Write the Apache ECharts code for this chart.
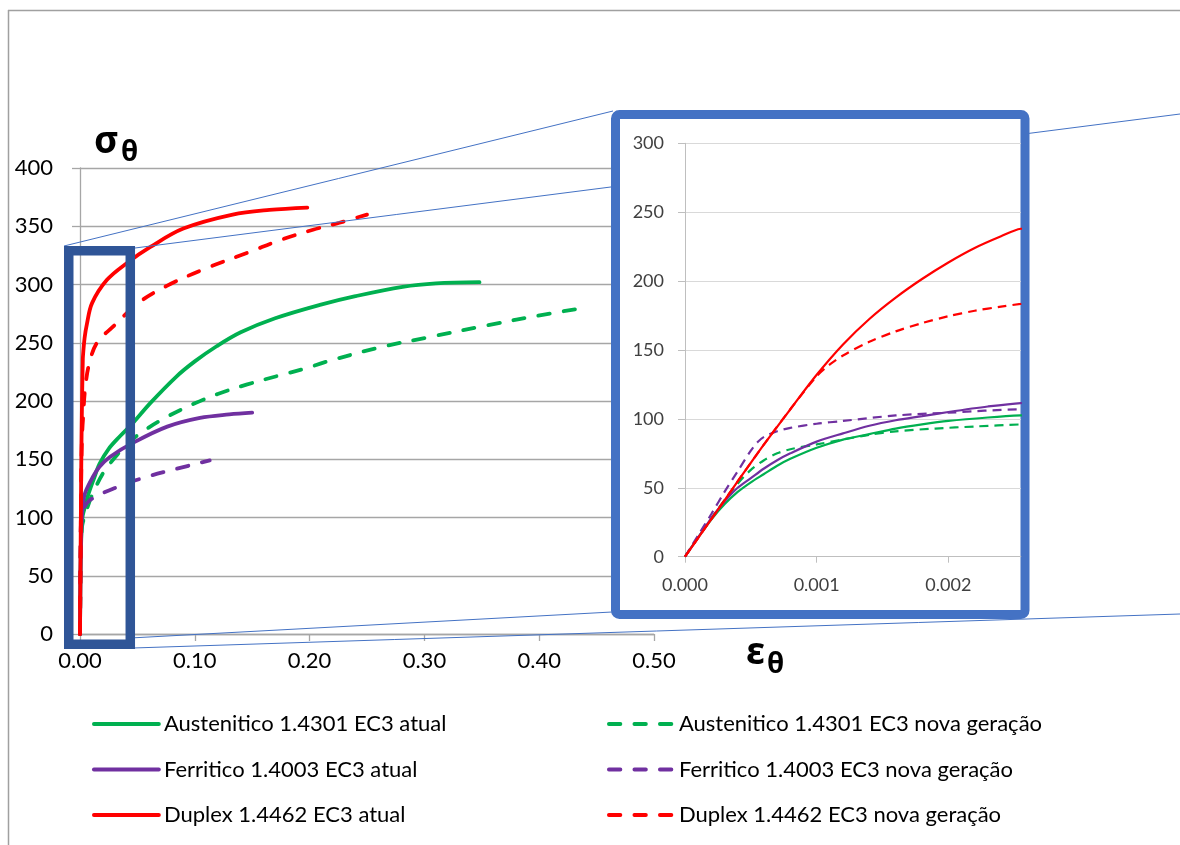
<!DOCTYPE html>
<html>
<head>
<meta charset="utf-8">
<script src="https://cdn.jsdelivr.net/npm/echarts@6/dist/echarts.min.js"></script>
<style>
  html, body { margin: 0; padding: 0; background: #fff; }
  #chart { width: 1180px; height: 845px; }
</style>
</head>
<body>
<div id="chart"></div>
<script>
// Stress-strain curves [strain, stress] at elevated temperature, EC3 current vs. new generation
const austeniticoAtual = [
  [0, 0], [0.0001, 14], [0.0002, 27], [0.0003, 38], [0.0004, 47], [0.0005, 54], [0.0006, 60],
  [0.0007, 66], [0.0008, 71], [0.001, 79], [0.0012, 85], [0.0014, 89], [0.0016, 93], [0.0018, 96],
  [0.002, 98.5], [0.0023, 101], [0.00255, 102.5], [0.004, 108], [0.007, 119], [0.012, 133],
  [0.017, 146], [0.025, 159], [0.035, 170], [0.046, 181], [0.061, 198], [0.084, 221], [0.1, 234],
  [0.119, 247], [0.14, 259], [0.17, 271], [0.209, 282.5], [0.24, 290], [0.281, 298], [0.31, 301],
  [0.348, 302]
];
const austeniticoNova = [
  [0, 0], [0.0001, 14], [0.0002, 28], [0.0003, 41], [0.0004, 53], [0.0005, 63], [0.0006, 70],
  [0.0007, 75], [0.0008, 78], [0.001, 81.5], [0.0012, 85], [0.0014, 88.5], [0.0016, 91],
  [0.0019, 93], [0.0022, 94.5], [0.00255, 96], [0.005, 104], [0.01, 118], [0.02, 138], [0.03, 151],
  [0.04, 162], [0.052, 172], [0.075, 186], [0.1, 198], [0.12, 206], [0.145, 214], [0.174, 222],
  [0.2, 229], [0.212, 233], [0.261, 246], [0.305, 255], [0.355, 265], [0.403, 274], [0.44, 280]
];
const ferriticoAtual = [
  [0, 0], [0.0001, 14], [0.0002, 28], [0.0003, 40], [0.0004, 50], [0.0005, 57], [0.0006, 64],
  [0.0007, 70], [0.0008, 75], [0.001, 83.5], [0.0012, 89.5], [0.0014, 95], [0.0016, 99],
  [0.0018, 102], [0.002, 105], [0.0023, 109], [0.00255, 111.5], [0.0044, 121], [0.0113, 135],
  [0.017, 143.5], [0.026, 152], [0.046, 164], [0.076, 178], [0.1045, 185.5], [0.13, 188.5], [0.15, 190]
];
const ferriticoNova = [
  [0, 0], [0.0001, 15.5], [0.0002, 31], [0.0003, 47], [0.0004, 62], [0.0005, 77], [0.00055, 83],
  [0.0006, 87], [0.0007, 91], [0.0008, 93.5], [0.001, 96.5], [0.0012, 98.5], [0.0016, 102.5],
  [0.002, 104.5], [0.00255, 107], [0.0087, 115], [0.032, 126], [0.055, 134], [0.081, 141],
  [0.113, 149]
];
const duplexAtual = [
  [0, 0], [0.0002, 27.3], [0.0004, 54.6], [0.0006, 81.5], [0.0008, 107], [0.001, 132],
  [0.0012, 154], [0.0014, 172.5], [0.0016, 188], [0.0018, 201.5], [0.002, 213.5], [0.0022, 224],
  [0.0024, 232.5], [0.00255, 238], [0.004, 254], [0.006, 266], [0.0105, 284], [0.0235, 304],
  [0.041, 318.5], [0.061, 332], [0.09, 348], [0.133, 360], [0.165, 364], [0.198, 366]
];
const duplexNova = [
  [0, 0], [0.0002, 27.3], [0.0004, 54.6], [0.0006, 81.5], [0.0008, 107], [0.001, 131],
  [0.0011, 139.5], [0.0012, 146], [0.0014, 156], [0.0016, 163.5], [0.0018, 169.5], [0.002, 174.5],
  [0.0022, 178.5], [0.0024, 181.5], [0.00255, 183.5], [0.0044, 210], [0.008, 232], [0.0148, 250],
  [0.029, 264], [0.052, 285], [0.076, 299], [0.11, 314], [0.148, 328], [0.174, 338], [0.203, 347],
  [0.226, 353], [0.25, 360]
];

const seriesNames = [
  'Austenitico 1.4301 EC3 atual', 'Austenitico 1.4301 EC3 nova geração',
  'Ferritico 1.4003 EC3 atual', 'Ferritico 1.4003 EC3 nova geração',
  'Duplex 1.4462 EC3 atual', 'Duplex 1.4462 EC3 nova geração'
];
const curves = [austeniticoAtual, austeniticoNova, ferriticoAtual, ferriticoNova, duplexAtual, duplexNova];
const curveColors = ['#00B050', '#00B050', '#7030A0', '#7030A0', '#FF0000', '#FF0000'];
const curveDashed = [false, true, false, true, false, true];

// Region of the main plot that is enlarged in the inset (strain, stress)
const zoomStrain = [-0.0098, 0.0438];
const zoomStress = [-8.8, 329];

const FONT = 'Lato';
const GRID_GRAY = '#a6a6a6';

const chart = echarts.init(document.getElementById('chart'), null, { renderer: 'canvas' });

const mainSeries = curves.map((data, i) => ({
  type: 'line',
  name: seriesNames[i],
  data: data,
  xAxisIndex: 0,
  yAxisIndex: 0,
  symbol: 'none',
  smooth: 0.35,
  silent: true,
  z: 2,
  itemStyle: { color: curveColors[i] },
  lineStyle: {
    color: curveColors[i],
    width: 3.8,
    cap: 'round',
    type: curveDashed[i] ? [11.5, 14] : 'solid'
  }
}));

const insetSeries = curves.map((data, i) => ({
  type: 'line',
  name: seriesNames[i],
  data: data,
  xAxisIndex: 1,
  yAxisIndex: 1,
  symbol: 'none',
  smooth: 0.3,
  silent: true,
  clip: true,
  z: 11,
  itemStyle: { color: curveColors[i] },
  lineStyle: {
    color: curveColors[i],
    width: 2.2,
    type: curveDashed[i] ? [9, 6] : 'solid'
  }
}));

const legendBase = {
  orient: 'vertical',
  top: 713,
  padding: 0,
  itemWidth: 65,
  itemHeight: 14,
  itemGap: 23.5,
  selectedMode: false,
  itemStyle: { opacity: 0 },
  lineStyle: { width: 3.8, cap: 'round' },
  textStyle: { fontFamily: FONT, fontSize: 22, color: '#000' }
};

chart.setOption({
  animation: false,
  backgroundColor: '#fff',
  grid: [
    { left: 80, top: 168, width: 574, height: 466 },
    { left: 685, top: 143.3, width: 335.8, height: 413.4 }
  ],
  xAxis: [
    {
      type: 'value', gridIndex: 0, min: 0, max: 0.5, interval: 0.1,
      axisLine: { show: true, lineStyle: { color: GRID_GRAY, width: 1.3 } },
      axisTick: { show: true, length: 7, lineStyle: { color: GRID_GRAY, width: 1.3 } },
      splitLine: { show: false },
      axisLabel: {
        margin: 16, color: '#000', fontFamily: FONT, fontSize: 22,
        formatter: v => v.toFixed(2)
      }
    },
    {
      type: 'value', gridIndex: 1, min: 0, max: 0.00255, interval: 0.001, z: 10,
      axisLine: { show: true, lineStyle: { color: '#bfbfbf', width: 1 } },
      axisTick: { show: true, length: 6, lineStyle: { color: '#bfbfbf', width: 1 } },
      splitLine: { show: false },
      axisLabel: {
        margin: 19, color: '#404040', fontFamily: FONT, fontSize: 18,
        showMaxLabel: false,
        formatter: v => v.toFixed(3)
      }
    }
  ],
  yAxis: [
    {
      type: 'value', gridIndex: 0, min: 0, max: 400, interval: 50,
      axisLine: { show: true, lineStyle: { color: GRID_GRAY, width: 1.3 } },
      axisTick: { show: true, length: 8, lineStyle: { color: GRID_GRAY, width: 1.3 } },
      splitLine: { show: true, lineStyle: { color: GRID_GRAY, width: 1.3 } },
      axisLabel: { margin: 27, color: '#000', fontFamily: FONT, fontSize: 22 }
    },
    {
      type: 'value', gridIndex: 1, min: 0, max: 300, interval: 50, z: 10,
      axisLine: { show: true, lineStyle: { color: '#bfbfbf', width: 1 } },
      axisTick: { show: true, length: 7, lineStyle: { color: '#bfbfbf', width: 1 } },
      splitLine: { show: true, lineStyle: { color: '#d9d9d9', width: 1.2 } },
      axisLabel: { margin: 21, color: '#404040', fontFamily: FONT, fontSize: 18 }
    }
  ],
  legend: [
    Object.assign({}, legendBase, { left: 92, data: [seriesNames[0], seriesNames[2], seriesNames[4]] }),
    Object.assign({}, legendBase, { left: 607, data: [seriesNames[1], seriesNames[3], seriesNames[5]] })
  ],
  series: mainSeries.concat(insetSeries)
});

// Annotations: frame, zoom box anchored to the main axes, connector lines, inset panel, axis symbols
const zTopLeft = chart.convertToPixel({ gridIndex: 0 }, [zoomStrain[0], zoomStress[1]]);
const zBottomRight = chart.convertToPixel({ gridIndex: 0 }, [zoomStrain[1], zoomStress[0]]);

const connector = (x1, y1, x2, y2) => ({
  type: 'line', z: 3, silent: true,
  shape: { x1, y1, x2, y2 },
  style: { stroke: '#4472C4', lineWidth: 1 }
});

chart.setOption({
  graphic: [
    // outer frame
    { type: 'line', z: 1, silent: true, shape: { x1: 8, y1: 10.5, x2: 1180, y2: 10.5 },
      style: { stroke: '#a0a0a0', lineWidth: 1.5 } },
    { type: 'line', z: 1, silent: true, shape: { x1: 8.5, y1: 10, x2: 8.5, y2: 845 },
      style: { stroke: '#a0a0a0', lineWidth: 1.5 } },
    // connector lines from the zoom box to the inset
    connector(64, 246, 613, 111),
    connector(135, 248, 1180, 114),
    connector(130, 638, 612, 612),
    connector(133, 648, 1180, 614),
    // zoom box on the main plot
    { type: 'rect', z: 6, silent: true,
      shape: { x: zTopLeft[0], y: zTopLeft[1], width: zBottomRight[0] - zTopLeft[0], height: zBottomRight[1] - zTopLeft[1] },
      style: { fill: 'none', stroke: '#2F5597', lineWidth: 9.5 } },
    // inset panel
    { type: 'rect', z: 5, silent: true,
      shape: { x: 615.5, y: 114.5, width: 409.5, height: 500, r: 4 },
      style: { fill: '#fff', stroke: '#4472C4', lineWidth: 9 } },
    // axis symbols
    { type: 'text', z: 7, silent: true, x: 94, y: 142,
      style: { text: 'σ', font: 'bold 38px "Noto Sans"', fill: '#000', verticalAlign: 'middle' } },
    { type: 'text', z: 7, silent: true, x: 121, y: 153,
      style: { text: 'θ', font: 'bold 28px "Noto Sans"', fill: '#000', verticalAlign: 'middle' } },
    { type: 'text', z: 7, silent: true, x: 746, y: 653,
      style: { text: 'ε', font: 'bold 38px "Noto Sans"', fill: '#000', verticalAlign: 'middle' } },
    { type: 'text', z: 7, silent: true, x: 767, y: 665,
      style: { text: 'θ', font: 'bold 28px "Noto Sans"', fill: '#000', verticalAlign: 'middle' } }
  ]
});
</script>
</body>
</html>
